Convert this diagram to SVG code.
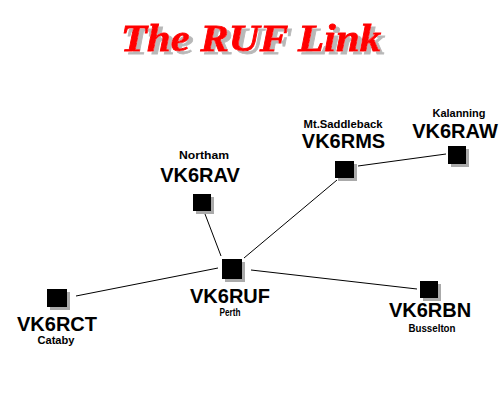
<svg xmlns="http://www.w3.org/2000/svg" width="500" height="400" viewBox="0 0 500 400">
<defs>
<filter id="ds" x="-5%" y="-20%" width="115%" height="150%">
<feDropShadow dx="4" dy="3" stdDeviation="0" flood-color="#b8b8b8" flood-opacity="1"/>
</filter>
</defs>
<style>
.big{font-family:"Liberation Sans",Arial,sans-serif;font-weight:bold;font-size:20px;fill:#000;text-anchor:middle}
.small{font-family:"Liberation Sans",Arial,sans-serif;font-weight:bold;font-size:10px;fill:#000;text-anchor:middle}
.box{fill:#000}
.sh{fill:#aaaaaa}
.title{font-family:"Liberation Serif",serif;font-weight:bold;font-style:italic;font-size:38px;fill:#ff0000;stroke:#ff0000;stroke-width:0.8}
.link{stroke:#000;stroke-width:1;fill:none}
</style>
<rect width="500" height="400" fill="#fff"/>
<g id="title">
<text class="title" x="121" y="51" filter="url(#ds)" textLength="260" lengthAdjust="spacingAndGlyphs">The RUF Link</text>
</g>
<g id="links">
<line class="link" x1="221" y1="256" x2="205" y2="214"/>
<line class="link" x1="244" y1="258" x2="337" y2="180"/>
<line class="link" x1="358" y1="166" x2="446" y2="154"/>
<line class="link" x1="218" y1="268" x2="76" y2="296"/>
<line class="link" x1="251" y1="270" x2="417" y2="289"/>
</g>
<g id="VK6RAV">
<rect class="sh" x="196" y="197" width="18" height="17"/>
<rect class="box" x="193" y="194" width="18" height="17"/>
<text class="small" x="204" y="159" textLength="50" lengthAdjust="spacingAndGlyphs">Northam</text>
<text class="big" x="200" y="182">VK6RAV</text>
</g>
<g id="VK6RMS">
<rect class="sh" x="338" y="164" width="19" height="17"/>
<rect class="box" x="335" y="161" width="19" height="17"/>
<text class="small" x="343" y="128" textLength="79" lengthAdjust="spacingAndGlyphs">Mt.Saddleback</text>
<text class="big" x="343.5" y="148">VK6RMS</text>
</g>
<g id="VK6RAW">
<rect class="sh" x="451" y="149" width="18" height="18"/>
<rect class="box" x="448" y="146" width="18" height="18"/>
<text class="small" x="459" y="117" textLength="53" lengthAdjust="spacingAndGlyphs">Kalanning</text>
<text class="big" x="455" y="138">VK6RAW</text>
</g>
<g id="VK6RUF">
<rect class="sh" x="225" y="262" width="20" height="20"/>
<rect class="box" x="222" y="259" width="20" height="20"/>
<text class="big" x="230" y="303">VK6RUF</text>
<text class="small" x="230" y="316" textLength="21" lengthAdjust="spacingAndGlyphs">Perth</text>
</g>
<g id="VK6RCT">
<rect class="sh" x="50" y="292" width="20" height="18"/>
<rect class="box" x="47" y="289" width="20" height="18"/>
<text class="big" x="57" y="331">VK6RCT</text>
<text class="small" x="56" y="344" textLength="37" lengthAdjust="spacingAndGlyphs">Cataby</text>
</g>
<g id="VK6RBN">
<rect class="sh" x="423" y="284" width="18" height="17"/>
<rect class="box" x="420" y="281" width="18" height="17"/>
<text class="big" x="430" y="317">VK6RBN</text>
<text class="small" x="432" y="332" textLength="47" lengthAdjust="spacingAndGlyphs">Busselton</text>
</g>
</svg>
